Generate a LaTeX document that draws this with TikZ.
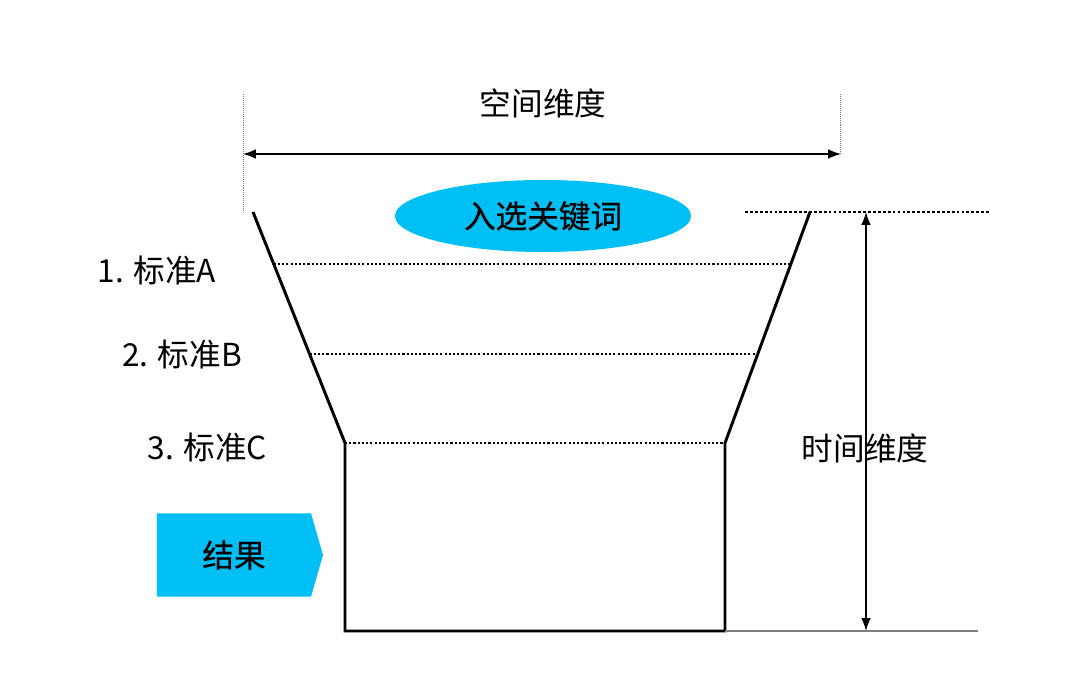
\documentclass[tikz,border=0pt]{standalone}
\usepackage{fontspec}
\newfontfamily\cjk{Noto Sans CJK SC}
\newfontfamily\cjkmed{Noto Sans CJK SC}[FakeBold=0.6]
\usetikzlibrary{arrows.meta,positioning,shapes.geometric,shapes.symbols,calc}
\definecolor{keyblue}{HTML}{00BFF5}

\begin{document}
\begin{tikzpicture}[x=0.025cm,y=-0.025cm,
    font=\cjk\fontsize{22.5}{27}\selectfont,
    funnel/.style={line width=2.1pt,line join=miter},
    level/.style={line width=1.6pt,dash pattern=on 1.5pt off 1.5pt},
    guide/.style={gray,line width=0.7pt,dash pattern=on 0.7pt off 0.7pt},
    dim/.style={line width=1pt,{Latex[length=3.2mm,width=2.4mm]}-{Latex[length=3.2mm,width=2.4mm]}}]
  \useasboundingbox (0,0) rectangle (1080,682);
  % funnel corners
  \coordinate (tl) at (253,212);
  \coordinate (tr) at (810,212);
  \coordinate (ml) at (345,443);
  \coordinate (mr) at (725,443);
  \coordinate (bl) at (345,631);
  \coordinate (br) at (725,631);
  \draw[funnel] (tl) -- (ml) -- (bl) -- (br) -- (mr) -- (tr);
  \draw[level] ($(tl)!0.225!(ml)$) -- ($(tr)!0.225!(mr)$);
  \draw[level] ($(tl)!0.615!(ml)$) -- ($(tr)!0.615!(mr)$);
  \draw[level] (ml) -- (mr);

  \node[ellipse,fill=keyblue,inner sep=0pt,minimum width=7.4cm,minimum height=1.8cm,
        font=\cjkmed\fontsize{22.5}{27}\selectfont] (kw) at (543,216) {入选关键词};

  \node[anchor=east] (ca) at (221,270) {1. 标准A};
  \node[anchor=east] (cb) at (247,354) {2. 标准B};
  \node[anchor=east] (cc) at (272,447) {3. 标准C};

  \node[signal,signal to=east,signal pointer angle=148,fill=keyblue,inner sep=0pt,
        minimum width=4.15cm,minimum height=2.075cm,
        font=\cjkmed\fontsize{22.5}{27}\selectfont] (res) at (234,555) {结果};

  % space dimension
  \coordinate (sl0) at (243,94);
  \coordinate (sl1) at (243,213);
  \coordinate (sr0) at (840,94);
  \coordinate (sr1) at (840,155);
  \draw[guide] (sl0) -- (sl1);
  \draw[guide] (sr0) -- (sr1);
  \coordinate (sa) at (243,154);
  \coordinate (sb) at (841,154);
  \draw[dim] (sa) -- (sb);
  \node (space) at (543,103) {空间维度};

  % time dimension
  \coordinate (ta0) at (745,212);
  \coordinate (ta1) at (990,212);
  \draw[line width=1pt,dash pattern=on 2pt off 1.5pt] (ta0) -- (ta1);
  \coordinate (te) at (978,631);
  \draw[gray,line width=1pt] (br) -- (te);
  \coordinate (tt) at (866,212);
  \coordinate (tb) at (866,631);
  \draw[dim] (tt) -- (tb);
  \node (time) at (865,448) {时间维度};
\end{tikzpicture}
\end{document}
